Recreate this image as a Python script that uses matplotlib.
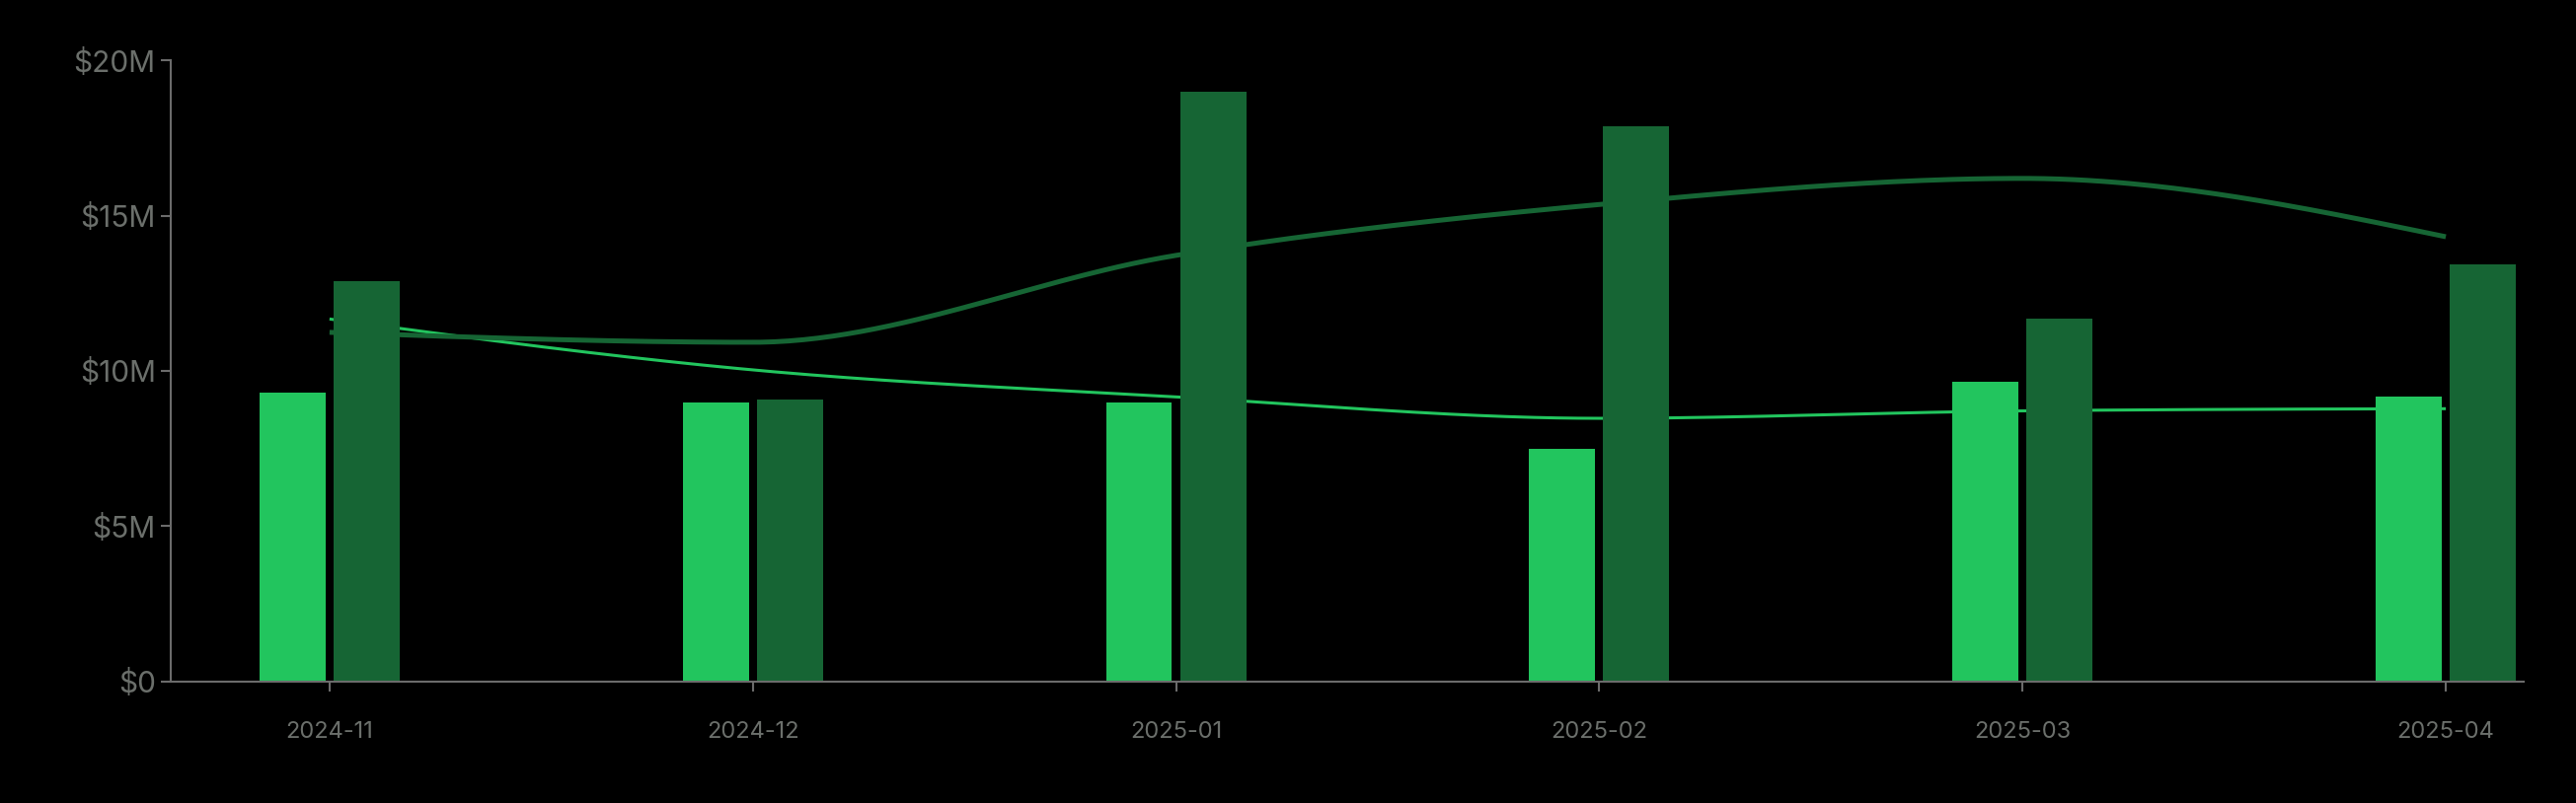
import numpy as np
import matplotlib
matplotlib.use("Agg")
import matplotlib.pyplot as plt
from matplotlib.ticker import FuncFormatter

# data (values in $)
months = ["2024-11", "2024-12", "2025-01", "2025-02", "2025-03", "2025-04"]
bars_light = [9.29e6, 8.98e6, 8.97e6, 7.48e6, 9.65e6, 9.16e6]
bars_dark = [12.89e6, 9.09e6, 18.99e6, 17.88e6, 11.68e6, 13.42e6]
line_light = [11.67e6, 10.03e6, 9.16e6, 8.47e6, 8.71e6, 8.78e6]
line_dark = [11.24e6, 10.92e6, 13.72e6, 15.36e6, 16.2e6, 14.32e6]

LIGHT = "#22c55e"
DARK = "#166534"
AXIS = "#6b6b6b"
TEXT = "#6b6f6b"

plt.rcParams['font.family'] = ['Inter', 'DejaVu Sans']


def monotone_x(x, y, n=60):
    # same idea as d3.curveMonotoneX
    x = np.asarray(x, float)
    y = np.asarray(y, float)
    m = len(x)
    t = np.zeros(m)
    for i in range(1, m - 1):
        h0 = x[i] - x[i - 1]
        h1 = x[i + 1] - x[i]
        s0 = (y[i] - y[i - 1]) / h0
        s1 = (y[i + 1] - y[i]) / h1
        p = (s0 * h1 + s1 * h0) / (h0 + h1)
        t[i] = (np.sign(s0) + np.sign(s1)) * min(abs(s0), abs(s1), 0.5 * abs(p))
    h = x[1] - x[0]
    t[0] = (3 * (y[1] - y[0]) / h - t[1]) / 2
    h = x[-1] - x[-2]
    t[-1] = (3 * (y[-1] - y[-2]) / h - t[-2]) / 2
    xs, ys = [], []
    for i in range(m - 1):
        h = x[i + 1] - x[i]
        u = np.linspace(0, 1, n)
        h00 = 2 * u**3 - 3 * u**2 + 1
        h10 = u**3 - 2 * u**2 + u
        h01 = -2 * u**3 + 3 * u**2
        h11 = u**3 - u**2
        xs.append(x[i] + u * h)
        ys.append(h00 * y[i] + h10 * h * t[i] + h01 * y[i + 1] + h11 * h * t[i + 1])
    return np.concatenate(xs), np.concatenate(ys)


fig = plt.figure(figsize=(26.1, 8.14), dpi=100, facecolor="black")
ax = fig.add_axes([0.0663, 0.1517, 0.9134, 0.773])
ax.set_facecolor("black")

x = np.arange(len(months))
w = 0.156
off = 0.0875

# lines sit behind bars
lx, ly = monotone_x(x, line_light)
ax.plot(lx, ly, color=LIGHT, lw=2.2, zorder=1, solid_capstyle="butt")
dx, dy = monotone_x(x, line_dark)
ax.plot(dx, dy, color=DARK, lw=3.6, zorder=1, solid_capstyle="butt")

ax.bar(x - off, bars_light, width=w, color=LIGHT, zorder=2)
ax.bar(x + off, bars_dark, width=w, color=DARK, zorder=2)

ax.set_xlim(-0.375, 5.184)
ax.set_ylim(0, 20e6)
ax.set_xticks(x)
ax.set_xticklabels(months)
ax.set_yticks([0, 5e6, 10e6, 15e6, 20e6])
ax.yaxis.set_major_formatter(FuncFormatter(lambda v, p: "$0" if v == 0 else "$%dM" % (v / 1e6)))

for s in ["top", "right"]:
    ax.spines[s].set_visible(False)
for s in ["left", "bottom"]:
    ax.spines[s].set_color(AXIS)
    ax.spines[s].set_linewidth(1.5)

ax.tick_params(axis="x", colors=AXIS, length=7, width=1.5, pad=22, labelsize=17, labelcolor=TEXT)
ax.tick_params(axis="y", colors=AXIS, length=7, width=1.5, pad=4, labelsize=21.5, labelcolor=TEXT)

fig.savefig("out.png", dpi=100, facecolor="black")
